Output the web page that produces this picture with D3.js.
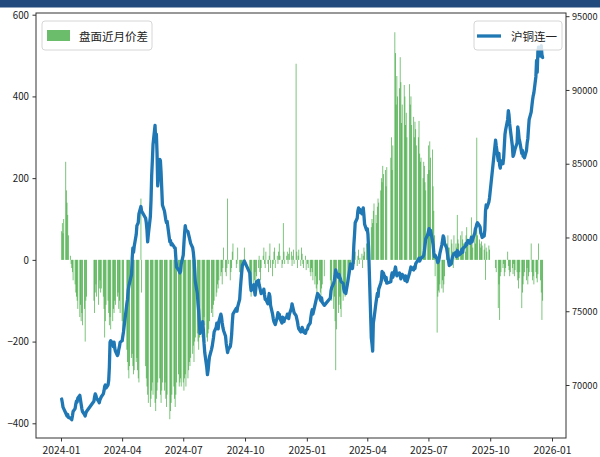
<!DOCTYPE html>
<html><head><meta charset="utf-8">
<script src="https://cdn.jsdelivr.net/npm/d3@7"></script>
<style>body{margin:0;background:#fff}</style>
</head><body>
<svg id="c" width="600" height="457"></svg>
<script>
// ---- data (per quarter, one value per trading day) ----
const spread24Q1 = [70,90,65,100,240,170,140,110,60,10,-10,-20,-30,-50,-60,-80,-90,-100,-120,-140,-110,-150,
  -130,-160,-120,-200,-100,-90,-100,-130,-80,-60,-90,-110,-70,-50,-80,
  -70,-90,-120,-190,-150,-110,-100,-130,-160,-140,-170,-150,-120,-130,-100,-110,-90,-80,-120,-100,-130];
const spread24Q2 = [-150,-180,-200,-220,-250,-270,-290,-260,-240,-230,-260,-280,-270,-250,-240,-270,-290,-300,150,-80,
  -260,-290,-310,-330,-350,-360,-340,-320,-300,-330,-350,-370,-340,-320,-300,-290,-330,-350,-320,-300,
  -320,-300,-340,-360,-330,-390,-370,-350,-330,-310,-340,-360,-330,-300,-280,-310,-300,-290,-310];
const spread24Q3 = [-300,-320,-290,-280,-310,-290,-270,-250,-260,-240,-230,-210,-250,-200,-190,-180,-200,-220,-190,-170,-190,-200,-160,
  -140,-160,-190,-200,-180,-170,-150,-130,-120,-140,-110,-100,-90,-80,-60,-70,-50,-40,-30,-60,-20,30,
  -30,-40,-20,150,-10,-50,-30,-20,20,40,-20,-10,30,-30,-40,-60,-50,-20,30];
const spread24Q4 = [-40,-70,-90,-60,-80,-50,-30,-60,-40,-20,10,-30,-50,-20,10,30,-10,-20,
  20,-10,-30,10,40,-20,-40,-10,20,30,-20,10,-10,20,40,10,-20,-10,90,20,-10,
  10,20,-10,15,30,20,-15,10,25,-10,480,20,-20,10,25,-15,30,15,-10,-20,10,-25];
const spread25Q1 = [-10,-20,-30,-40,-20,-30,-50,-60,-40,-70,-90,-60,-50,-80,-100,-70,-60,-40,
  -50,-80,-100,-120,-90,-150,-270,-170,-130,-110,-90,-120,-140,-100,-80,-60,-90,-70,
  -60,-40,-30,-20,-10,10,-20,15,-10,20,-15,10,25,-10,5,15,-20,10,30,20,40];
const spread25Q2 = [40,60,30,80,100,90,120,138,110,90,130,150,140,170,200,190,230,210,220,180,227,
  250,300,220,280,557,506,380,450,400,420,496,435,335,380,428,400,330,360,300,
  430,380,400,330,350,300,338,320,280,300,340,260,240,250,200,240,230,190,170,210];
const spread25Q3 = [280,220,290,250,270,180,120,60,-40,-178,-90,-75,-80,-60,-70,-50,-80,-60,-40,20,40,60,30,
  30,50,40,20,-20,60,40,30,110,50,40,60,30,70,50,40,20,60,80,50,40,
  40,60,104,50,30,70,40,80,299,60,50,40,30,45,35,25,40,-49,30,20,35,25];
const spread25Q4 = [-20,-30,-118,-60,-147,-40,-30,-20,-10,-40,-30,-20,20,-15,-25,-40,-30,
  -20,-35,-10,-40,-25,-30,-50,-70,-45,-30,-118,-80,-60,-40,-30,-50,-20,-60,-40,-30,
  40,-30,-50,-40,-60,-30,-45,-55,-35,40,-50,-80,-147,-100];

const price24Q1 = [69050,68800,68500,68400,68100,68000,67900,68000,67800,67760,67700,67650,67900,68200,68400,68700,68900,68850,69100,69300,69000,68700,
  68400,68200,68000,67900,68100,68200,68900,69200,69400,69300,69100,68900,68800,69000,69100,
  69200,69400,69600,69900,70000,69800,70000,70300,71200,72900,73000,72800,72600,72900,72500,72300,72000,72100,72400,72600,72900];
const price24Q2 = [73000,73300,73600,75500,75800,76400,76700,76900,77500,78600,79300,79000,79400,80200,80800,80900,81000,81600,82100,81800,
  81300,81000,80500,79700,80200,81400,82500,84200,85200,86300,87600,86500,87000,85700,83500,85300,85200,84400,83300,82200,
  81800,81500,81200,81000,81100,79700,79800,79500,79600,79400,79300,79300,78600,78000,77800,77700,77600,77700,78200];
const price24Q3 = [78800,79600,80300,80800,80500,80400,80200,80000,79800,79600,79300,79000,78500,77800,77000,76200,75500,75000,74200,73500,73900,74300,73700,
  72800,72200,71200,70700,71000,71500,71900,72400,72600,72900,73200,73600,73900,74200,74000,73800,74300,74800,74600,74200,73900,73700,
  73300,72800,72500,72200,72400,72600,72900,73400,74200,74800,75200,75000,75300,75800,76500,77100,77600,78100,78400];
const price24Q4 = [77600,76800,76400,76500,76800,76400,76100,76500,77000,77100,76800,76600,76400,76200,76300,76500,76100,75800,
  75800,75500,75900,76200,76000,75400,74800,74500,74300,74200,74100,74600,74900,74700,74800,74500,74200,74600,74400,74300,74500,
  74600,74800,74700,74500,74800,75200,75500,75300,75100,74900,74700,74500,74300,74000,73800,73600,73700,73900,73800,73600,73500,73700];
const price25Q1 = [73800,74000,74200,74600,74900,75100,74800,75400,75600,75800,76000,76200,76000,75800,75700,75900,75600,75400,
  75900,76400,76600,76900,77100,77400,77800,77600,77300,77500,77300,77200,77000,76900,76500,76300,76500,76200,
  77000,77300,77600,77900,78200,77900,78400,79500,80200,81000,81300,81800,82000,81700,81900,81600,81800,82000,81500,80900,80500];
const price25Q2 = [80600,80200,79200,73200,72800,72300,74200,74500,75600,75900,76200,76000,76500,76900,77100,77700,77400,77600,77100,77300,76900,
  77000,77400,77600,77300,77800,78000,77700,77400,77500,77600,77400,77200,77400,77500,77300,77100,77400,77200,77000,
  77600,77800,78000,77900,77800,78000,77900,78200,78300,78500,78600,78400,78500,78600,78700,78800,79100,79500,79900,80200];
const price25Q3 = [80400,80600,80200,80500,79800,79500,79000,78700,78800,78500,78300,78400,78600,78900,79500,79800,80100,80000,79600,79300,79000,78700,78400,
  78100,78200,78500,78700,78800,78900,79000,78700,79100,79000,78800,78900,79100,79200,79000,79300,79400,79600,79500,79700,79800,
  79600,79800,80000,79700,79900,80300,80600,80700,80900,81000,80800,80700,80300,80200,80000,80100,80500,81800,82200,82000,82400,82700];
const price25Q4 = [86600,86200,85200,85700,84900,84700,85200,85000,85400,86200,87000,87300,88000,88600,88300,87700,87300,
  86200,85500,85600,85800,86000,86400,87500,87200,86700,86500,85700,85900,85500,85600,85400,85900,86400,86700,87400,88000,
  88500,88900,89300,89600,89800,90900,92000,91200,92600,92900,92300,93000,92400,92200];

const quarterRanges = [["2024-01-01","2024-03-31"],["2024-04-01","2024-06-30"],["2024-07-01","2024-09-30"],["2024-10-01","2024-12-31"],
  ["2025-01-01","2025-03-31"],["2025-04-01","2025-06-30"],["2025-07-01","2025-09-30"],["2025-10-01","2025-12-18"]];
const holidays = ["2024-01-01","2024-02-09","2024-02-12","2024-02-13","2024-02-14","2024-02-15","2024-02-16","2024-04-04","2024-04-05",
  "2024-05-01","2024-05-02","2024-05-03","2024-06-10","2024-09-16","2024-09-17","2024-10-01","2024-10-02","2024-10-03","2024-10-04","2024-10-07",
  "2025-01-01","2025-01-28","2025-01-29","2025-01-30","2025-01-31","2025-02-03","2025-02-04","2025-04-04","2025-05-01","2025-05-02","2025-05-05",
  "2025-06-02","2025-10-01","2025-10-02","2025-10-03","2025-10-06","2025-10-07","2025-10-08"];
const xTicks = ["2024-01","2024-04","2024-07","2024-10","2025-01","2025-04","2025-07","2025-10","2026-01"];
const leftTicks = [-400,-200,0,200,400,600];
const rightTicks = [70000,75000,80000,85000,90000,95000];
const barLabel = "盘面近月价差", lineLabel = "沪铜连一";

const spreads = [spread24Q1,spread24Q2,spread24Q3,spread24Q4,spread25Q1,spread25Q2,spread25Q3,spread25Q4];
const prices = [price24Q1,price24Q2,price24Q3,price24Q4,price25Q1,price25Q2,price25Q3,price25Q4];

const hol = new Set(holidays);
const parse = d3.utcParse("%Y-%m-%d");
function tradingDays(a, b) {
  const out = [];
  for (let d = parse(a); d <= parse(b); d = d3.utcDay.offset(d, 1)) {
    const wd = d.getUTCDay();
    if (wd === 0 || wd === 6) continue;
    if (hol.has(d3.utcFormat("%Y-%m-%d")(d))) continue;
    out.push(d);
  }
  return out;
}
const data = [];
quarterRanges.forEach((r, qi) => {
  const days = tradingDays(r[0], r[1]);
  const n = Math.min(days.length, spreads[qi].length, prices[qi].length);
  for (let i = 0; i < n; i++) data.push({date: days[i], spread: spreads[qi][i], price: prices[qi][i]});
});

// ---- drawing ----
const svg = d3.select("#c");
const L = 36, R = 566, T = 13, B = 438;
const x = d3.scaleUtc().domain([Date.UTC(2024,0,1), Date.UTC(2026,0,1)]).range([61, 552]);
const yL = d3.scaleLinear().domain([-400, 600]).range([423.3, 14.7]);
const yR = d3.scaleLinear().domain([70000, 95000]).range([385, 16.2]);
const green = "#2ca02c", greenAlpha = 0.7, blue = "#1f77b4";
const tickFont = "'Noto Sans CJK SC',sans-serif";
const cjkFont = "'Noto Sans CJK SC',sans-serif";

svg.append("rect").attr("x",0).attr("y",0).attr("width",600).attr("height",7.5).attr("fill","#224a7c");

svg.append("clipPath").attr("id","pa").append("rect").attr("x",L).attr("y",T).attr("width",R-L).attr("height",B-T);
const g = svg.append("g").attr("clip-path","url(#pa)");

const bw = (x(Date.UTC(2024,0,2)) - x(Date.UTC(2024,0,1))) * 1.3;
g.selectAll("rect.bar").data(data).join("rect").attr("class","bar")
  .attr("x", d => x(d.date) - bw/2)
  .attr("y", d => Math.min(yL(0), yL(d.spread)))
  .attr("width", bw)
  .attr("height", d => Math.abs(yL(d.spread) - yL(0)))
  .attr("fill", green).attr("fill-opacity", greenAlpha);

g.append("path").datum(data)
  .attr("d", d3.line().x(d => x(d.date)).y(d => yR(d.price)))
  .attr("fill","none").attr("stroke",blue).attr("stroke-width",3.3)
  .attr("stroke-linejoin","round").attr("stroke-linecap","round");

// axes
function styleAxis(sel, perChar, size) {
  sel.select(".domain").remove();
  sel.selectAll("line").attr("stroke","#333");
  sel.selectAll("text").attr("font-family",tickFont).attr("font-size",size).attr("fill","#222")
    .attr("lengthAdjust","spacingAndGlyphs")
    .attr("textLength", function(){ return this.textContent.length * perChar; });
}
svg.append("g").attr("transform",`translate(${L},0)`)
  .call(d3.axisLeft(yL).tickValues(leftTicks).tickFormat(d3.format("d")).tickSize(3.5).tickPadding(3.5)).call(styleAxis, 5.4, "10.5px");
svg.append("g").attr("transform",`translate(${R},0)`)
  .call(d3.axisRight(yR).tickValues(rightTicks).tickFormat(d3.format("d")).tickSize(3.5).tickPadding(2.5)).call(styleAxis, 5.1, "9.6px");
const pm = d3.utcParse("%Y-%m");
svg.append("g").attr("transform",`translate(0,${B})`)
  .call(d3.axisBottom(x).tickValues(xTicks.map(pm)).tickFormat(d3.utcFormat("%Y-%m")).tickSize(3.5).tickPadding(5)).call(styleAxis, 5.4, "10.5px");

svg.append("rect").attr("x",L).attr("y",T).attr("width",R-L).attr("height",B-T)
  .attr("fill","none").attr("stroke","#333").attr("stroke-width",1);

// legends
const lg1 = svg.append("g");
lg1.append("rect").attr("x",42).attr("y",21).attr("width",110).attr("height",29).attr("rx",3)
  .attr("fill","#fff").attr("fill-opacity",0.8).attr("stroke","#d6d6d6");
lg1.append("rect").attr("x",47).attr("y",30).attr("width",23).attr("height",11).attr("fill",green).attr("fill-opacity",greenAlpha);
lg1.append("text").attr("x",79).attr("y",41).attr("font-family",cjkFont).attr("font-size","11.5px").attr("fill","#222").text(barLabel);

const lg2 = svg.append("g");
lg2.append("rect").attr("x",474).attr("y",21).attr("width",88).attr("height",29).attr("rx",3)
  .attr("fill","#fff").attr("fill-opacity",0.8).attr("stroke","#d6d6d6");
lg2.append("line").attr("x1",477).attr("x2",501).attr("y1",36).attr("y2",36).attr("stroke",blue).attr("stroke-width",3.3);
lg2.append("text").attr("x",511).attr("y",41).attr("font-family",cjkFont).attr("font-size","11.5px").attr("fill","#222").text(lineLabel);
</script>
</body></html>
